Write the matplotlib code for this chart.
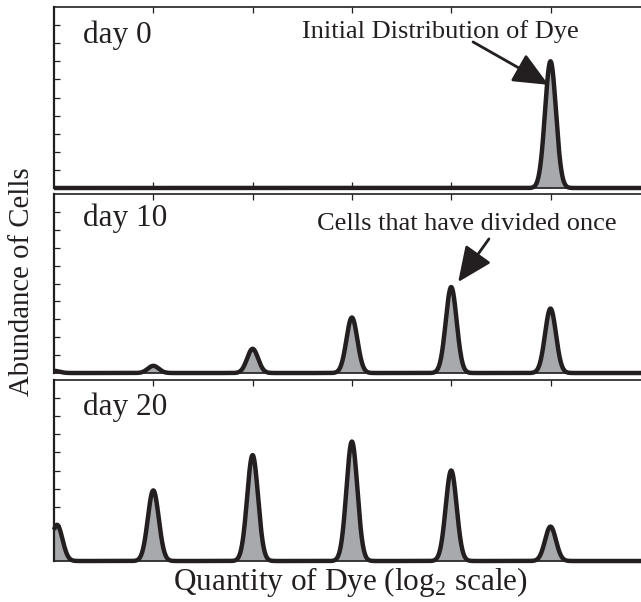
import numpy as np
import matplotlib
matplotlib.use("Agg")
import matplotlib.pyplot as plt

plt.rcParams['font.family'] = ['Liberation Serif', 'DejaVu Serif']
plt.rcParams['mathtext.fontset'] = 'custom'
plt.rcParams['mathtext.rm'] = 'Liberation Serif'

INK = '#231f20'
FILL = '#a7a9ac'

# Peak positions (log2 dye units; each division halves dye) and peak heights
day_labels = ['day 0', 'day 10', 'day 20']
day0_centers = [5]
day0_heights = [7.0]
day10_centers = [0, 1, 2, 3, 4, 5]
day10_heights = [0.12, 0.4, 1.35, 3.1, 4.8, 3.6]
day20_centers = [0.03, 1, 2, 3, 4, 5]
day20_heights = [2.0, 3.9, 5.85, 6.6, 5.0, 1.9]
peak_sigma = 0.055

panels = [(day0_centers, day0_heights),
          (day10_centers, day10_heights),
          (day20_centers, day20_heights)]

W, H = 641, 602
fig = plt.figure(figsize=(W / 100, H / 100), dpi=100)

# panel extents in pixels (top, bottom)
extents = [(7, 188), (194, 373), (380, 561)]
left_px = 54
xmax = (W - left_px) / 99.3

x = np.linspace(0, xmax, 3000)
axes = []
for (top, bot), (centers, heights) in zip(extents, panels):
    ax = fig.add_axes([left_px / W, 1 - bot / H, 1 - left_px / W, (bot - top) / H])
    y = np.zeros_like(x)
    for c, h in zip(centers, heights):
        y += h * np.exp(-0.5 * ((x - c) / peak_sigma) ** 2)
    ax.fill_between(x, 0, y, color=FILL, lw=0, zorder=2)
    ax.plot(x, y, color=INK, lw=3.2, solid_capstyle='butt', clip_on=False, zorder=3)
    ax.set_xlim(0, xmax)
    ax.set_ylim(0, 10)
    ax.set_xticks([1, 2, 3, 4, 5])
    ax.set_yticks(range(1, 10))
    ax.tick_params(direction='in', length=4, width=0.9, color=INK,
                   top=True, bottom=True, left=True, right=False,
                   labelbottom=False, labelleft=False)
    ax.spines['right'].set_visible(False)
    ax.spines['left'].set_linewidth(1.6)
    ax.spines['top'].set_linewidth(1.2)
    ax.spines['bottom'].set_linewidth(1.2)
    for s in ax.spines.values():
        s.set_color(INK)
    axes.append(ax)

label_y = [8.45, 8.66, 8.5]
for ax, lab, ly in zip(axes, day_labels, label_y):
    ax.text(0.29, ly, lab, fontsize=22.5, color=INK, ha='left', va='center')

# annotation arrows
arrow_kw = dict(arrowstyle='-|>,head_length=0.9,head_width=0.4', color=INK,
                lw=2.0, mutation_scale=24, shrinkA=0, shrinkB=0)
axes[0].annotate('', xy=(4.98, 5.7), xytext=(4.22, 8.07), arrowprops=arrow_kw,
                 annotation_clip=False)
axes[0].text(3.89, 8.67, 'Initial Distribution of Dye', fontsize=19,
             color=INK, ha='center', va='center')

axes[1].annotate('', xy=(4.07, 5.08), xytext=(4.38, 7.49), arrowprops=arrow_kw,
                 annotation_clip=False)
axes[1].text(4.16, 8.3, 'Cells that have divided once', fontsize=19,
             color=INK, ha='center', va='center')

fig.text(22 / W, 1 - 282 / H, 'Abundance of Cells', rotation=90, fontsize=20.7,
         color=INK, ha='center', va='center')
fig.text(350 / W, 1 - 582 / H, r'Quantity of Dye (log$_2$ scale)', fontsize=22.5,
         color=INK, ha='center', va='center')

fig.savefig('out.png', dpi=100)
